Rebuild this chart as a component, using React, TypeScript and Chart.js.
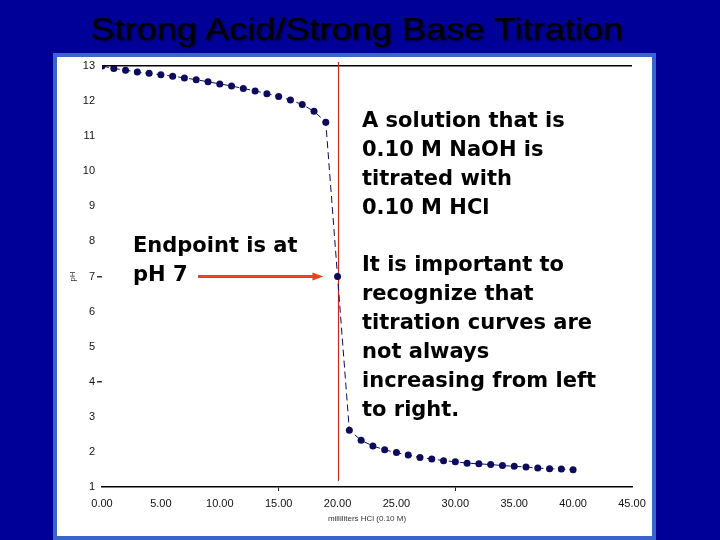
import { useEffect, useRef } from 'react';
import { Chart, registerables } from 'chart.js';

Chart.register(...registerables);

// mL of 0.10 M HCl added
const volumes = [
  0, 1, 2, 3, 4, 5, 6, 7, 8, 9, 10, 11, 12, 13, 14, 15, 16, 17, 18, 19, 20,
  21, 22, 23, 24, 25, 26, 27, 28, 29, 30, 31, 32, 33, 34, 35, 36, 37, 38, 39, 40,
];
// pH
const phValues = [
  13.0, 12.93, 12.88, 12.83, 12.79, 12.75, 12.71, 12.66, 12.61, 12.55, 12.49,
  12.43, 12.36, 12.29, 12.21, 12.13, 12.03, 11.9, 11.71, 11.4, 7.0,
  2.62, 2.33, 2.17, 2.06, 1.98, 1.91, 1.84, 1.8, 1.75, 1.72,
  1.68, 1.66, 1.64, 1.61, 1.59, 1.57, 1.54, 1.52, 1.51, 1.49,
];
const xTickMarks = [15, 30];
const yTickMarks = [7, 4];
const endpointVolume = 20;
const endpointPh = 7;
const arrowFrom = 8.15;
const arrowTo = 18.8;

const NAVY = '#000099';
const POINT = '#0c0c5a';

const endpointPlugin = {
  id: 'endpoint',
  beforeDatasetsDraw(chart: Chart) {
    const { ctx, chartArea } = chart;
    const x = chart.scales.x;
    const y = chart.scales.y;
    const px = Math.round(x.getPixelForValue(endpointVolume)) + 0.5;
    ctx.save();
    ctx.strokeStyle = '#c82828';
    ctx.lineWidth = 1.2;
    ctx.beginPath();
    ctx.moveTo(px, chartArea.top - 4);
    ctx.lineTo(px, chartArea.bottom - 6);
    ctx.stroke();

    const ay = y.getPixelForValue(endpointPh);
    const x0 = x.getPixelForValue(arrowFrom);
    const x1 = x.getPixelForValue(arrowTo);
    ctx.strokeStyle = '#e4461e';
    ctx.fillStyle = '#e4461e';
    ctx.lineWidth = 3;
    ctx.beginPath();
    ctx.moveTo(x0, ay);
    ctx.lineTo(x1 - 8, ay);
    ctx.stroke();
    ctx.beginPath();
    ctx.moveTo(x1, ay);
    ctx.lineTo(x1 - 11, ay - 4);
    ctx.lineTo(x1 - 11, ay + 4);
    ctx.closePath();
    ctx.fill();
    ctx.restore();
  },
};

function TitrationChart() {
  const canvasRef = useRef<HTMLCanvasElement>(null);
  const chartRef = useRef<Chart | null>(null);

  useEffect(() => {
    if (!canvasRef.current) return;
    chartRef.current?.destroy();

    chartRef.current = new Chart(canvasRef.current, {
      type: 'line',
      data: {
        datasets: [
          {
            data: volumes.map((v, i) => ({ x: v, y: phValues[i] })),
            borderColor: POINT,
            borderWidth: 1,
            borderDash: [7, 4],
            pointRadius: 3.5,
            pointBackgroundColor: POINT,
            pointBorderWidth: 0,
            tension: 0,
          },
        ],
      },
      options: {
        responsive: false,
        animation: false,
        layout: { padding: { top: 10, right: 20, left: 0, bottom: 0 } },
        plugins: {
          legend: { display: false },
          tooltip: { enabled: false },
        },
        scales: {
          x: {
            type: 'linear',
            min: 0,
            max: 45,
            afterFit: (scale) => {
              scale.height = 49;
            },
            ticks: {
              stepSize: 5,
              color: '#111',
              font: { family: 'Arial, "Liberation Sans"', size: 11 },
              padding: 6,
              callback: (v) => Number(v).toFixed(2),
            },
            grid: {
              drawOnChartArea: false,
              tickLength: 4,
              tickColor: (c) =>
                xTickMarks.includes(c.tick?.value) ? '#222' : 'transparent',
            },
            border: { display: true, color: '#000', width: 1.5 },
            title: {
              display: true,
              text: 'milliliters HCl (0.10 M)',
              color: '#333',
              font: { family: 'Arial, "Liberation Sans"', size: 8 },
              padding: { top: 0, bottom: 12 },
            },
          },
          y: {
            min: 1,
            max: 13,
            afterFit: (scale) => {
              scale.width = 45;
            },
            ticks: {
              stepSize: 1,
              color: '#111',
              font: { family: 'Arial, "Liberation Sans"', size: 11 },
              padding: 2,
            },
            grid: {
              color: (c) => (c.tick?.value === 13 ? '#000' : 'transparent'),
              lineWidth: 1.5,
              tickLength: 5,
              tickColor: (c) =>
                yTickMarks.includes(c.tick?.value) ? '#333' : 'transparent',
            },
            border: { display: false },
            title: {
              display: true,
              text: 'pH',
              color: '#333',
              font: { family: 'Arial, "Liberation Sans"', size: 8 },
              padding: { top: 11, bottom: 0 },
            },
          },
        },
      },
      plugins: [endpointPlugin],
    });

    return () => {
      chartRef.current?.destroy();
      chartRef.current = null;
    };
  }, []);

  return <canvas ref={canvasRef} width={595} height={480} />;
}

const noteStyle: React.CSSProperties = {
  position: 'absolute',
  fontFamily: '"DejaVu Sans", sans-serif',
  fontWeight: 'bold',
  fontSize: 21,
  lineHeight: '29px',
  color: '#000',
  whiteSpace: 'pre',
};

export default function App() {
  return (
    <div
      style={{
        position: 'fixed',
        left: 0,
        top: 0,
        width: 720,
        height: 540,
        background: NAVY,
        overflow: 'hidden',
      }}
    >
      <div
        style={{
          position: 'absolute',
          left: 0,
          top: 9,
          width: 714,
          textAlign: 'center',
          fontFamily: 'Arial, "Liberation Sans", sans-serif',
          fontSize: 32,
          lineHeight: '40px',
          color: '#000',
          textShadow: '1px 1px 2px #000033',
          transform: 'scaleX(1.13)',
        }}
      >
        Strong Acid/Strong Base Titration
      </div>
      <div
        style={{
          position: 'absolute',
          left: 53,
          top: 53,
          width: 595,
          height: 479,
          background: '#fff',
          border: '4px solid #3a64cc',
        }}
      />
      <div style={{ position: 'absolute', left: 57, top: 56 }}>
        <TitrationChart />
      </div>
      <div style={{ ...noteStyle, left: 362, top: 106 }}>
        {'A solution that is\n0.10 M NaOH is\ntitrated with\n0.10 M HCl'}
      </div>
      <div style={{ ...noteStyle, left: 362, top: 250 }}>
        {'It is important to\nrecognize that\ntitration curves are\nnot always\nincreasing from left\nto right.'}
      </div>
      <div style={{ ...noteStyle, left: 133, top: 231 }}>
        {'Endpoint is at\npH 7'}
      </div>
    </div>
  );
}
